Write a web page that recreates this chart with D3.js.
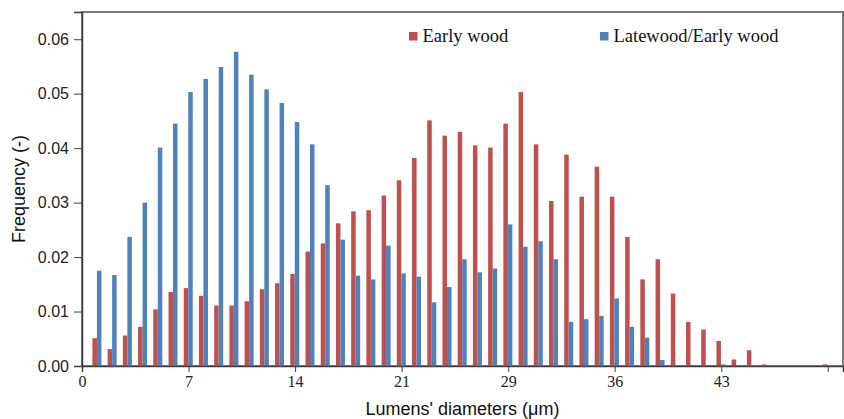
<!DOCTYPE html>
<html>
<head>
<meta charset="utf-8">
<script src="https://cdn.jsdelivr.net/npm/d3@7/dist/d3.min.js"></script>
<style>
  html, body { margin: 0; padding: 0; background: #fff; }
  svg { display: block; }
</style>
</head>
<body>
<svg id="chart" width="844" height="419"></svg>
<script>
// ---- Data ----
const categories = d3.range(1, 50); // bins 1..49
const seriesNames = ["Early wood", "Latewood/Early wood"];
const earlyWood = [
  0.0051, 0.0031, 0.0056, 0.0072, 0.0104, 0.0136, 0.0143, 0.0129, 0.0111, 0.0111,
  0.0119, 0.0141, 0.0152, 0.0169, 0.0210, 0.0225, 0.0262, 0.0284, 0.0286, 0.0313,
  0.0341, 0.0382, 0.0451, 0.0423, 0.0430, 0.0405, 0.0401, 0.0445, 0.0503, 0.0407,
  0.0303, 0.0388, 0.0311, 0.0366, 0.0311, 0.0237, 0.0159, 0.0196, 0.0133, 0.0081,
  0.0067, 0.0046, 0.0012, 0.0029, 0.0003, 0, 0, 0, 0.0003
];
const latewoodEarly = [
  0.0175, 0.0167, 0.0237, 0.0300, 0.0401, 0.0445, 0.0503, 0.0527, 0.0549, 0.0577,
  0.0535, 0.0508, 0.0483, 0.0448, 0.0407, 0.0332, 0.0232, 0.0166, 0.0159, 0.0221,
  0.0170, 0.0164, 0.0117, 0.0145, 0.0196, 0.0172, 0.0179, 0.0260, 0.0219, 0.0229,
  0.0196, 0.0081, 0.0086, 0.0092, 0.0124, 0.0072, 0.0052, 0.0011, 0, 0.0002,
  0, 0.0003, 0, 0, 0, 0, 0, 0, 0
];
const xTickValues = [0, 7, 14, 21, 28, 35, 42, 49];
const xTickLabels = ["0", "7", "14", "21", "29", "36", "43", ""];
const yTickValues = [0, 0.01, 0.02, 0.03, 0.04, 0.05, 0.06];
const colors = ["#C0504D", "#4F81BD"];

// ---- Layout ----
const svg = d3.select("#chart");
const mLeft = 82, mRight = 843, mTop = 12, mBottom = 366;

const x = d3.scaleLinear().domain([0, 50]).range([mLeft, mRight]);
const y = d3.scaleLinear().domain([0, 0.065]).range([mBottom, mTop]);
const inner = d3.scaleBand().domain(seriesNames).range([-4.8, 4.2]).padding(0);

// plot frame
svg.append("rect")
  .attr("x", mLeft).attr("y", mTop)
  .attr("width", mRight - mLeft).attr("height", mBottom - mTop)
  .attr("fill", "none").attr("stroke", "#7a7a7a").attr("stroke-width", 2);

// bars
const series = [earlyWood, latewoodEarly];
series.forEach((vals, si) => {
  svg.append("g").selectAll("rect")
    .data(categories.map((c, i) => ({ c, v: vals[i] })).filter(d => d.v > 0))
    .join("rect")
    .attr("x", d => x(d.c) + inner(seriesNames[si]))
    .attr("width", inner.bandwidth())
    .attr("y", d => y(d.v))
    .attr("height", d => y(0) - y(d.v))
    .attr("fill", colors[si]);
});

// y axis
const yAxis = d3.axisLeft(y).tickValues(yTickValues)
  .tickFormat(d3.format(".2f")).tickSize(8).tickPadding(5);
const gy = svg.append("g").attr("transform", `translate(${mLeft},0)`).call(yAxis);
gy.select(".domain").attr("stroke", "#404040").attr("stroke-width", 1.5);
gy.selectAll(".tick line").attr("stroke", "#404040");
gy.selectAll(".tick text")
  .attr("font-family", "'Liberation Sans', Arial, sans-serif")
  .attr("font-size", 16).attr("fill", "#222");

// x axis
const xAxis = d3.axisBottom(x).tickValues(xTickValues)
  .tickFormat((d, i) => xTickLabels[i]).tickSize(6).tickPadding(4);
const gx = svg.append("g").attr("transform", `translate(0,${mBottom})`).call(xAxis);
gx.select(".domain").attr("stroke", "#404040").attr("stroke-width", 1.5);
gx.selectAll(".tick line").attr("stroke", "#404040");
gx.selectAll(".tick text")
  .attr("font-family", "'Liberation Serif', 'Times New Roman', serif")
  .attr("font-size", 16).attr("fill", "#222");

// axis titles
svg.append("text")
  .attr("x", (mLeft + mRight) / 2).attr("y", 415)
  .attr("text-anchor", "middle")
  .attr("font-family", "'Liberation Sans', Arial, sans-serif")
  .attr("font-size", 18).attr("fill", "#111")
  .text("Lumens' diameters (μm)");

svg.append("text")
  .attr("transform", `translate(25,${(mTop + mBottom) / 2}) rotate(-90)`)
  .attr("text-anchor", "middle")
  .attr("font-family", "'Liberation Sans', Arial, sans-serif")
  .attr("font-size", 18).attr("fill", "#111")
  .text("Frequency (-)");

// legend
const legendPos = [409, 600];
seriesNames.forEach((name, i) => {
  const g = svg.append("g").attr("transform", `translate(${legendPos[i]},32)`);
  g.append("rect").attr("width", 8.5).attr("height", 8.5).attr("fill", colors[i]);
  g.append("text").attr("x", 13.5).attr("y", 10)
    .attr("font-family", "'Liberation Serif', 'Times New Roman', serif")
    .attr("font-size", 18.5).attr("fill", "#111")
    .text(name);
});
</script>
</body>
</html>
